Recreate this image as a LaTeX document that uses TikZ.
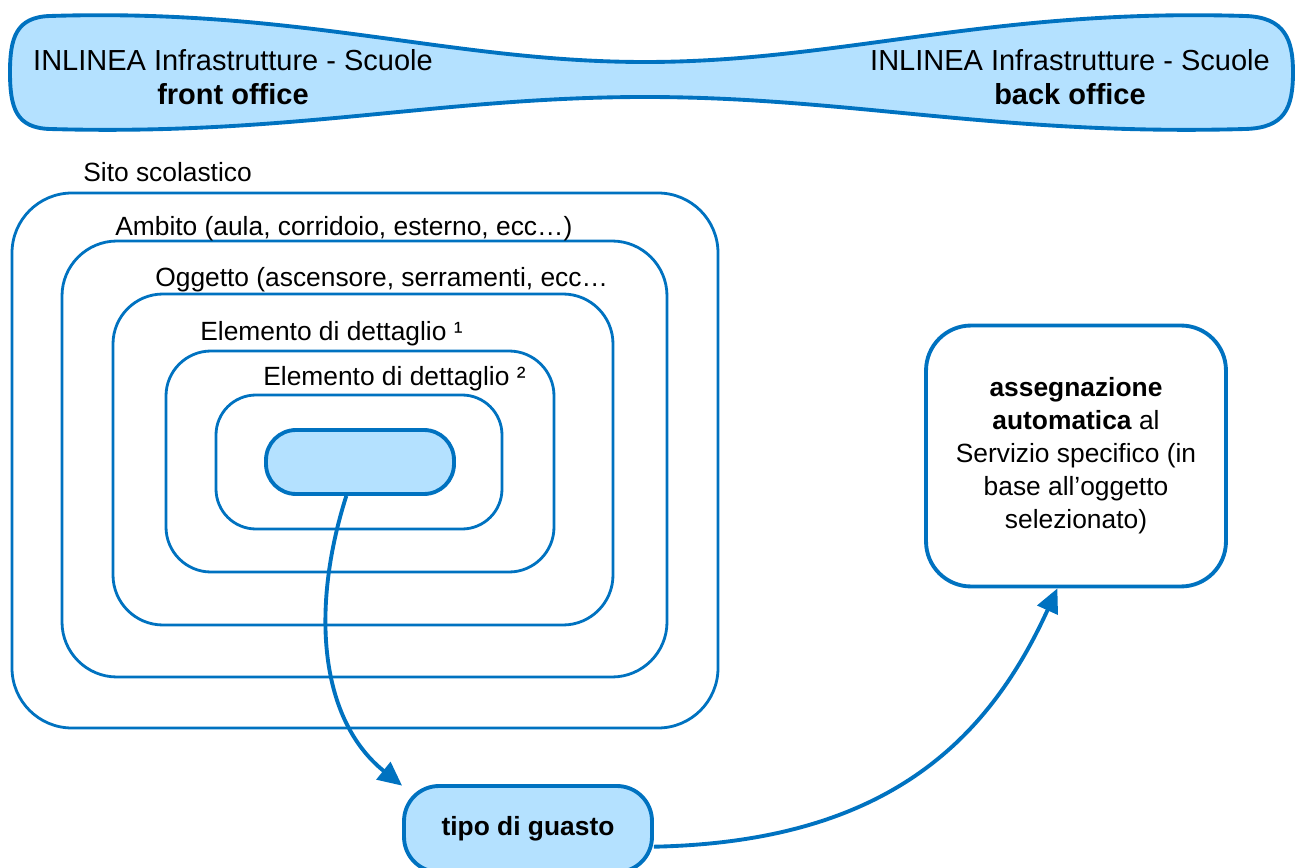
\documentclass[tikz,border=0pt]{standalone}
\usepackage{fontspec}
\setmainfont{Liberation Sans}
\usetikzlibrary{arrows.meta}
\definecolor{lineblue}{RGB}{0,114,192}
\definecolor{fillblue}{RGB}{180,225,255}
\begin{document}
\begin{tikzpicture}[x=0.02cm, y=-0.02cm,
    every node/.style={font=\fontsize{15}{18.8}\selectfont},
    banner/.style={draw=lineblue, fill=fillblue, line width=2.2pt},
    bannertext/.style={align=center, inner sep=0pt, font=\fontsize{16.5}{19.4}\selectfont},
    levelframe/.style={draw=lineblue, line width=1.6pt},
    levellabel/.style={anchor=base west, inner sep=0pt},
    pill/.style={draw=lineblue, fill=fillblue, line width=2.2pt, rounded corners=0.6cm},
    infobox/.style={draw=lineblue, line width=2.2pt, rounded corners=0.9cm, align=center},
    linkarrow/.style={draw=lineblue, line width=2.2pt, -{Triangle[length=0.48cm, width=0.44cm]}}]
  \useasboundingbox (0,0) rectangle (1295,868);

  % front office / back office banner
  \draw[banner] (50,16) .. controls (300,8) and (450,62) .. (645,62)
    .. controls (840,62) and (990,8) .. (1245,16)
    .. controls (1285,17) and (1293,40) .. (1293,72)
    .. controls (1293,108) and (1285,128) .. (1245,129)
    .. controls (1000,136) and (850,97) .. (645,97)
    .. controls (440,97) and (290,136) .. (50,129)
    .. controls (16,128) and (10,108) .. (10,72)
    .. controls (10,38) and (16,17) .. (50,16) -- cycle;
  \node[bannertext] (front) at (233,77) {INLINEA Infrastrutture - Scuole\\\textbf{front office}};
  \node[bannertext] (back) at (1070,77) {INLINEA Infrastrutture - Scuole\\\textbf{back office}};

  % nested levels
  \draw[levelframe, rounded corners=1.2cm] (12,193) rectangle (718,728);
  \draw[levelframe, rounded corners=1.1cm] (62,241) rectangle (667,677);
  \draw[levelframe, rounded corners=1.0cm] (113,294) rectangle (613,625);
  \draw[levelframe, rounded corners=0.9cm] (166,351) rectangle (554,572);
  \draw[levelframe, rounded corners=0.8cm] (216,395) rectangle (502,529);

  \node[levellabel] (sito) at (83,182) {Sito scolastico};
  \node[levellabel] (ambito) at (115,236) {Ambito (aula, corridoio, esterno, ecc…)};
  \node[levellabel] (oggetto) at (155,287) {Oggetto (ascensore, serramenti, ecc…};
  \node[levellabel] (elem1) at (200,340) {Elemento di dettaglio ¹};
  \node[levellabel] (elem2) at (263,385) {Elemento di dettaglio ²};

  \node[pill, minimum width=3.76cm, minimum height=1.28cm] (pill) at (360,462) {};

  \node[pill, rounded corners=0.7cm, minimum width=4.96cm, minimum height=1.72cm] (tipo) at (528,829) {\textbf{tipo di guasto}};

  \node[infobox, minimum width=6cm, minimum height=5.22cm] (assign) at (1076,456)
    {\textbf{assegnazione}\\\textbf{automatica} al\\Servizio specifico (in\\base all’oggetto\\selezionato)};

  \draw[linkarrow] (pill.248) .. controls (310,610) and (320,720) .. (tipo.161);
  \draw[linkarrow] (tipo.-8) .. controls (884,842) and (987,743) .. (assign.262);
\end{tikzpicture}
\end{document}
